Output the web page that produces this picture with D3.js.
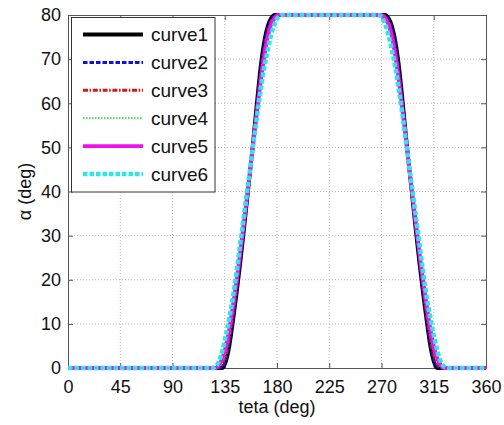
<!DOCTYPE html>
<html>
<head>
<meta charset="utf-8">
<script src="https://cdn.jsdelivr.net/npm/d3@7"></script>
<style>
  body { margin: 0; background: #fff; }
  svg { font-family: "Liberation Sans", Arial, sans-serif; }
</style>
</head>
<body>
<div id="chart"></div>
<script>
// teta grid (deg), shared by all curves
const teta = [0,
  120, 124, 127, 130, 133, 136, 139, 142, 145, 148, 151, 154, 157, 160, 163, 166, 169, 172, 175, 178, 181, 184, 187,
  264, 267, 270, 273, 276, 279, 282, 285, 288, 291, 294, 297, 300, 303, 306, 309, 312, 315, 318, 321, 324, 327, 331,
  360];

const curve1 = [0,
  0, 0, 0, 0, 0, 1.5, 5, 10.5, 16.5, 23, 30, 37.5, 45, 52.8, 61, 68.5, 74, 77.5, 79.3, 80, 80, 80, 80,
  80, 80, 80, 80, 79.3, 77.5, 74, 68.5, 61, 52.8, 45, 37.5, 30, 23, 16.5, 10.5, 5, 1.5, 0, 0, 0, 0, 0,
  0];
const curve2 = [0,
  0, 0, 0, 0, 0.3, 2, 5.8, 11, 17, 23.5, 30.5, 37.5, 45, 52.5, 60.5, 67.5, 73.3, 77, 79, 79.8, 80, 80, 80,
  80, 80, 80, 79.8, 79, 77, 73.3, 67.5, 60.5, 52.5, 45, 37.5, 30.5, 23.5, 17, 11, 5.8, 2, 0.3, 0, 0, 0, 0,
  0];
const curve3 = [0,
  0, 0, 0, 0.2, 1, 3, 7, 12, 18, 24.5, 31, 38, 45, 52.3, 59.5, 66.5, 72, 76, 78.5, 79.6, 80, 80, 80,
  80, 80, 80, 79.6, 78.5, 76, 72, 66.5, 59.5, 52.3, 45, 38, 31, 24.5, 18, 12, 7, 3, 1, 0.2, 0, 0, 0,
  0];
const curve4 = [0,
  0, 0, 0, 0.4, 1.6, 4, 8, 13, 18.8, 25, 31.5, 38.2, 45, 52, 59, 65.8, 71.3, 75.5, 78.2, 79.5, 80, 80, 80,
  80, 80, 80, 79.5, 78.2, 75.5, 71.3, 65.8, 59, 52, 45, 38.2, 31.5, 25, 18.8, 13, 8, 4, 1.6, 0.4, 0, 0, 0,
  0];
const curve5 = [0,
  0, 0, 0, 0.7, 2.3, 5, 9, 14, 19.5, 25.5, 32, 38.5, 45, 51.8, 58.5, 65, 70.5, 75, 77.8, 79.3, 80, 80, 80,
  80, 80, 80, 79.3, 77.8, 75, 70.5, 65, 58.5, 51.8, 45, 38.5, 32, 25.5, 19.5, 14, 9, 5, 2.3, 0.7, 0, 0, 0,
  0];
const curve6 = [0,
  0, 0, 0.3, 1.5, 4, 7.5, 11.5, 16, 21.5, 27.5, 33.5, 39.5, 45.5, 51.5, 57.5, 63, 68, 72, 75.5, 78, 79.5, 80, 80,
  80, 80, 79.5, 78, 75.5, 72, 68, 63, 57.5, 51.5, 45.5, 39.5, 33.5, 27.5, 21.5, 16, 11.5, 7.5, 4, 1.5, 0.3, 0, 0,
  0];

const seriesNames = ['curve1', 'curve2', 'curve3', 'curve4', 'curve5', 'curve6'];
const xTicks = [0, 45, 90, 135, 180, 225, 270, 315, 360];
const yTicks = [0, 10, 20, 30, 40, 50, 60, 70, 80];

const svgWidth = 504;
const svgHeight = 425;
const margin = { top: 15, right: 18, bottom: 57, left: 68 };
const chartWidth = svgWidth - margin.left - margin.right;
const chartHeight = svgHeight - margin.top - margin.bottom;

// line styles per series
const styles = [
  { color: '#000000', width: 3.8, dash: null },
  { color: '#1010d8', width: 3, dash: '4.5,2' },
  { color: '#c81e1e', width: 3, dash: '5,1.6,1.6,1.6' },
  { color: '#66d466', width: 2.2, dash: '1.5,1.5' },
  { color: '#ee10ee', width: 3.8, dash: null },
  { color: '#2ee6e6', width: 4.5, dash: '4.5,2' },
];

const allSeries = [curve1, curve2, curve3, curve4, curve5, curve6];

const svg = d3.select('#chart').append('svg').attr('width', svgWidth).attr('height', svgHeight);
const g = svg.append('g').attr('transform', `translate(${margin.left},${margin.top})`);

const xScale = d3.scaleLinear().domain([0, 360]).range([0, chartWidth]);
const yScale = d3.scaleLinear().domain([0, 80]).range([chartHeight, 0]);

// grid
g.append('g')
  .selectAll('line')
  .data(xTicks.slice(1, -1))
  .enter()
  .append('line')
  .attr('x1', d => xScale(d)).attr('x2', d => xScale(d))
  .attr('y1', 0).attr('y2', chartHeight)
  .attr('stroke', '#b8b8b8').attr('stroke-dasharray', '1,2');

g.append('g')
  .selectAll('line')
  .data(yTicks.slice(1, -1))
  .enter()
  .append('line')
  .attr('x1', 0).attr('x2', chartWidth)
  .attr('y1', d => yScale(d)).attr('y2', d => yScale(d))
  .attr('stroke', '#b8b8b8').attr('stroke-dasharray', '1,2');

// axes (ticks inside, box on all four sides)
const styleAxis = sel => {
  sel.selectAll('path').attr('stroke', '#555');
  sel.selectAll('line').attr('stroke', '#555');
  sel.selectAll('text').style('font-size', '18px').attr('fill', '#111');
};

g.append('g')
  .attr('transform', `translate(0,${chartHeight})`)
  .call(d3.axisBottom(xScale).tickValues(xTicks).tickSizeInner(-5).tickSizeOuter(0).tickPadding(12))
  .call(styleAxis);

g.append('g')
  .call(d3.axisLeft(yScale).tickValues(yTicks).tickSizeInner(-5).tickSizeOuter(0).tickPadding(7))
  .call(styleAxis);

g.append('g')
  .call(d3.axisTop(xScale).tickValues(xTicks).tickSizeInner(-5).tickSizeOuter(0).tickFormat(''))
  .call(styleAxis);

g.append('g')
  .attr('transform', `translate(${chartWidth},0)`)
  .call(d3.axisRight(yScale).tickValues(yTicks).tickSizeInner(-5).tickSizeOuter(0).tickFormat(''))
  .call(styleAxis);

// curves
const line = d3.line()
  .x((d, i) => xScale(teta[i]))
  .y(d => yScale(d))
  .curve(d3.curveMonotoneX);

allSeries.forEach((values, k) => {
  g.append('path')
    .datum(values)
    .attr('fill', 'none')
    .attr('stroke', styles[k].color)
    .attr('stroke-width', styles[k].width)
    .attr('stroke-dasharray', styles[k].dash)
    .attr('d', line);
});

// legend
const legend = svg.append('g').attr('transform', 'translate(71.5,17.5)');
legend.append('rect')
  .attr('width', 143.5).attr('height', 174.5)
  .attr('fill', '#fff').attr('stroke', '#333');

seriesNames.forEach((name, k) => {
  const y = 17 + k * 27.9;
  legend.append('line')
    .attr('x1', 11.5).attr('x2', 71.5)
    .attr('y1', y).attr('y2', y)
    .attr('stroke', styles[k].color)
    .attr('stroke-width', styles[k].width)
    .attr('stroke-dasharray', styles[k].dash);
  legend.append('text')
    .attr('x', 79.5).attr('y', y + 6.5)
    .style('font-size', '19px')
    .attr('fill', '#111')
    .text(name);
});

// axis labels
svg.append('text')
  .attr('x', margin.left + chartWidth / 2)
  .attr('y', 413)
  .attr('text-anchor', 'middle')
  .style('font-size', '18px')
  .attr('fill', '#111')
  .text('teta (deg)');

svg.append('text')
  .attr('transform', 'rotate(-90)')
  .attr('x', -(margin.top + chartHeight / 2))
  .attr('y', 31)
  .attr('text-anchor', 'middle')
  .style('font-size', '18px')
  .attr('fill', '#111')
  .text('α (deg)');
</script>
</body>
</html>
